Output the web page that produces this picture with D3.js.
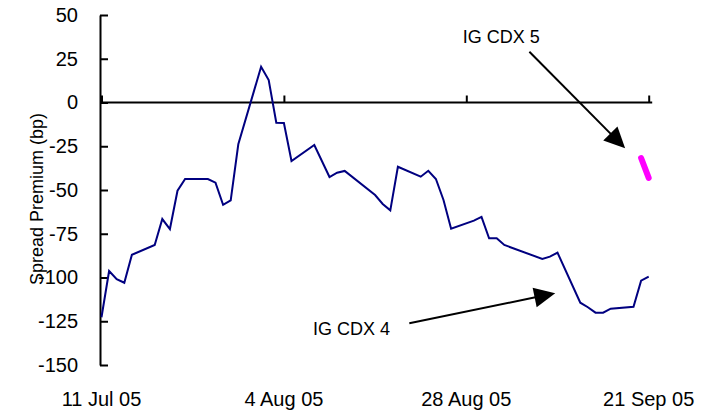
<!DOCTYPE html>
<html>
<head>
<meta charset="utf-8">
<script src="https://cdn.jsdelivr.net/npm/d3@7"></script>
<style>
  html, body { margin: 0; padding: 0; background: #fff; }
  svg { display: block; }
  text { font-family: "Liberation Sans", Arial, sans-serif; fill: #000; }
</style>
</head>
<body>
<svg id="chart" width="707" height="411"></svg>
<script>
// ---------- data ----------
const cdx4Dates = [
  "2005-07-11","2005-07-12","2005-07-13","2005-07-14","2005-07-15",
  "2005-07-18","2005-07-19","2005-07-20","2005-07-21","2005-07-22",
  "2005-07-25","2005-07-26","2005-07-27","2005-07-28","2005-07-29",
  "2005-08-01","2005-08-02","2005-08-03","2005-08-04","2005-08-05",
  "2005-08-08","2005-08-10","2005-08-11","2005-08-12",
  "2005-08-16","2005-08-17","2005-08-18","2005-08-19",
  "2005-08-22","2005-08-23","2005-08-24","2005-08-25","2005-08-26",
  "2005-08-29","2005-08-30","2005-08-31","2005-09-01","2005-09-02",
  "2005-09-07","2005-09-08","2005-09-09",
  "2005-09-12","2005-09-13","2005-09-14","2005-09-15","2005-09-16",
  "2005-09-19","2005-09-20","2005-09-21"
];
const cdx4Values = [
  -122.7, -96.3, -100.9, -103.0, -87.0,
  -81.4, -66.6, -72.3, -50.4, -43.7,
  -43.7, -45.8, -58.5, -55.9, -23.9,
  20.4, 12.8, -11.6, -11.7, -33.4,
  -24.3, -42.6, -40.1, -39.1,
  -52.9, -58.0, -61.6, -36.7,
  -42.4, -39.0, -43.7, -55.7, -72.1,
  -67.5, -65.4, -77.6, -77.6, -81.4,
  -89.4, -88.1, -85.8,
  -114.4, -117.0, -120.1, -120.1, -117.8,
  -116.7, -101.8, -99.5
];
const cdx5Dates = ["2005-09-20","2005-09-21"];
const cdx5Values = [-31.7, -43.1];

const xTickDates = ["2005-07-11","2005-08-04","2005-08-28","2005-09-21"];
const xTickLabels = ["11 Jul 05","4 Aug 05","28 Aug 05","21 Sep 05"];
const yTicks = [50, 25, 0, -25, -50, -75, -100, -125, -150];
const yTitle = "Spread Premium (bp)";

// annotations: label + arrow, positioned in data space (day offset from 11 Jul 05, bp)
const annotations = [
  { text: "IG CDX 5", labelDay: 52.6, labelVal: 34,
    fromDay: 56.3, fromVal: 29.0, toDay: 68.9, toVal: -26.2 },
  { text: "IG CDX 4", labelDay: 32.9, labelVal: -132.9,
    fromDay: 40.5, fromVal: -126.2, toDay: 59.7, toVal: -109.0 }
];

// ---------- drawing ----------
const parse = d3.utcParse("%Y-%m-%d");
const startDate = parse("2005-07-11");
const endDate = parse("2005-09-21");
const dayOff = d => new Date(startDate.getTime() + d * 864e5);

const svg = d3.select("#chart");

const x = d3.scaleUtc().domain([startDate, endDate]).range([101.5, 648.7]);
const y = d3.scaleLinear().domain([-150, 50]).range([365, 15]);

// Y axis (ticks inside, to the right)
const yAxis = d3.axisLeft(y)
  .tickValues(yTicks)
  .tickSizeInner(-8)
  .tickSizeOuter(0)
  .tickPadding(22)
  .tickFormat(d => String(d));
const gy = svg.append("g").attr("transform", "translate(100,0)").call(yAxis);
gy.select(".domain").attr("stroke", "#000").attr("stroke-width", 2);
gy.selectAll(".tick line").attr("stroke", "#000").attr("stroke-width", 2);
gy.selectAll(".tick text")
  .attr("font-family", "Liberation Sans, Arial, sans-serif")
  .attr("font-size", 20)
  .attr("fill", "#000");

// X axis along zero line (ticks pointing up), no labels
const xAxis = d3.axisTop(x)
  .tickValues(xTickDates.map(parse))
  .tickSizeInner(7)
  .tickSizeOuter(0)
  .tickFormat("");
const gx = svg.append("g").attr("transform", `translate(0,${y(0)})`).call(xAxis);
gx.select(".domain").remove();
gx.selectAll(".tick line").attr("stroke", "#000").attr("stroke-width", 2);
gx.append("line")
  .attr("x1", x.range()[0] - 1.5).attr("x2", x.range()[1] + 3.5)
  .attr("y1", 0).attr("y2", 0)
  .attr("stroke", "#000").attr("stroke-width", 2);

// X tick labels at the bottom
svg.append("g").selectAll("text")
  .data(xTickDates.map((d, i) => ({ d: parse(d), label: xTickLabels[i] })))
  .join("text")
  .attr("x", d => x(d.d))
  .attr("y", 406)
  .attr("text-anchor", "middle")
  .attr("font-size", 20)
  .text(d => d.label);

// Y title
svg.append("text")
  .attr("transform", `translate(43,199) rotate(-90)`)
  .attr("text-anchor", "middle")
  .attr("font-size", 18)
  .text(yTitle);

// IG CDX 4 line
const cdx4 = cdx4Dates.map((d, i) => ({ d: parse(d), v: cdx4Values[i] }));
const line = d3.line().x(p => x(p.d)).y(p => y(p.v));
svg.append("path")
  .datum(cdx4)
  .attr("d", line)
  .attr("fill", "none")
  .attr("stroke", "#000080")
  .attr("stroke-width", 2)
  .attr("stroke-linejoin", "miter");

// IG CDX 5 line
const cdx5 = cdx5Dates.map((d, i) => ({ d: parse(d), v: cdx5Values[i] }));
svg.append("path")
  .datum(cdx5)
  .attr("d", line)
  .attr("fill", "none")
  .attr("stroke", "#FF00FF")
  .attr("stroke-width", 6)
  .attr("stroke-linecap", "round");

// annotations
const headLen = 21, headHalf = 10;
annotations.forEach(a => {
  svg.append("text")
    .attr("x", x(dayOff(a.labelDay)))
    .attr("y", y(a.labelVal))
    .attr("text-anchor", "middle")
    .attr("font-size", 18)
    .text(a.text);
  const x1 = x(dayOff(a.fromDay)), y1 = y(a.fromVal);
  const x2 = x(dayOff(a.toDay)), y2 = y(a.toVal);
  const len = Math.hypot(x2 - x1, y2 - y1);
  const ux = (x2 - x1) / len, uy = (y2 - y1) / len;
  const bx = x2 - ux * headLen, by = y2 - uy * headLen;
  svg.append("line")
    .attr("x1", x1).attr("y1", y1)
    .attr("x2", bx + ux * 2).attr("y2", by + uy * 2)
    .attr("stroke", "#000").attr("stroke-width", 2);
  svg.append("path")
    .attr("d", `M${x2},${y2}L${bx - uy * headHalf},${by + ux * headHalf}L${bx + uy * headHalf},${by - ux * headHalf}Z`)
    .attr("fill", "#000");
});
</script>
</body>
</html>
